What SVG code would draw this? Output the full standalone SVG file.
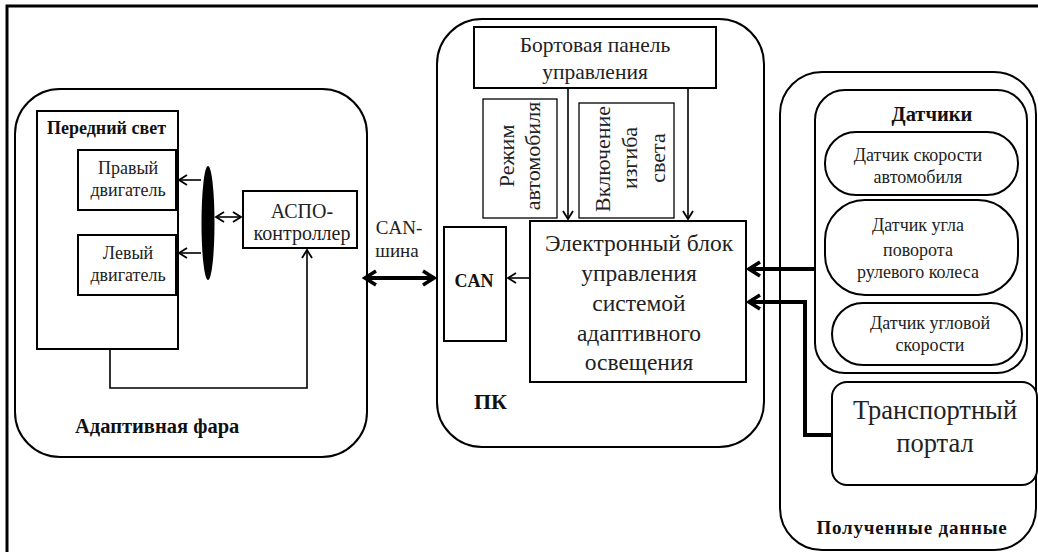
<svg xmlns="http://www.w3.org/2000/svg" width="1038" height="552" viewBox="0 0 1038 552">
<style>
.box{fill:#fff;stroke:#000;stroke-width:2}
.tbox{fill:#fff;stroke:#000;stroke-width:1.3}
.t{font-family:'Liberation Serif','DejaVu Serif','Times New Roman',serif;fill:#222;text-anchor:middle}
.b{font-family:'Liberation Serif','DejaVu Serif','Times New Roman',serif;font-weight:bold;fill:#111}
.thin{fill:none;stroke:#000;stroke-width:1.6}
.thick{fill:none;stroke:#000;stroke-width:4}
</style>
<defs>
<marker id="ah" markerWidth="12" markerHeight="12" refX="10" refY="6" orient="auto-start-reverse" markerUnits="userSpaceOnUse">
<path d="M2,1 L10,6 L2,11" fill="none" stroke="#000" stroke-width="1.8"/>
</marker>
<marker id="ahb" markerWidth="18" markerHeight="18" refX="15" refY="9" orient="auto-start-reverse" markerUnits="userSpaceOnUse">
<path d="M4,2 L15,9 L4,16" fill="none" stroke="#000" stroke-width="3.5"/>
</marker>
</defs>
<rect x="0" y="0" width="1038" height="552" fill="#fff"/>
<rect x="7" y="6" width="1060" height="580" fill="none" stroke="#000" stroke-width="3"/>

<g id="headlight">
<rect class="box" x="15" y="89" width="352" height="368" rx="45" ry="45"/>
<text class="b" x="75" y="433" font-size="20.5">Адаптивная фара</text>
</g>
<g id="front-light">
<rect class="box" x="37" y="111" width="141" height="238"/>
<text class="b" x="47" y="134" font-size="18">Передний свет</text>
</g>
<g id="right-motor">
<rect class="box" x="78" y="150" width="98" height="60"/>
<text class="t" x="128" y="174" font-size="18">Правый</text>
<text class="t" x="128" y="196" font-size="18">двигатель</text>
</g>
<g id="left-motor">
<rect class="box" x="78" y="235" width="98" height="60"/>
<text class="t" x="128" y="259" font-size="18">Левый</text>
<text class="t" x="128" y="281" font-size="18">двигатель</text>
</g>
<g id="bus-node">
<ellipse cx="208" cy="223" rx="6.5" ry="57" fill="#000"/>
</g>
<g id="aspo">
<rect class="box" x="243" y="191" width="114" height="57"/>
<text class="t" x="302" y="218" font-size="20">АСПО-</text>
<text class="t" x="302" y="240" font-size="20">контроллер</text>
</g>

<g id="pc">
<rect class="box" x="437" y="19" width="327" height="428" rx="45" ry="45"/>
<text class="b" x="474" y="409" font-size="22">ПК</text>
</g>
<g id="panel">
<rect class="box" x="474" y="27" width="242" height="61"/>
<text class="t" x="595" y="52" font-size="21.5">Бортовая панель</text>
<text class="t" x="595" y="79" font-size="21.5">управления</text>
</g>
<g id="mode">
<rect class="tbox" x="483" y="99" width="74" height="119"/>
<text class="t" font-size="22" transform="translate(514,156) rotate(-90)">Режим</text>
<text class="t" font-size="22" transform="translate(540,156) rotate(-90)">автомобиля</text>
</g>
<g id="bend">
<rect class="tbox" x="579" y="103" width="95" height="115"/>
<text class="t" font-size="22" transform="translate(610,159) rotate(-90)">Включение</text>
<text class="t" font-size="22" transform="translate(637,158) rotate(-90)">изгиба</text>
<text class="t" font-size="22" transform="translate(665,158) rotate(-90)">света</text>
</g>
<g id="ecu">
<rect class="box" x="530" y="221" width="216" height="161"/>
<text class="t" x="639" y="251" font-size="23.5">Электронный блок</text>
<text class="t" x="639" y="281" font-size="23.5">управления</text>
<text class="t" x="639" y="311" font-size="23.5">системой</text>
<text class="t" x="639" y="341" font-size="23.5">адаптивного</text>
<text class="t" x="639" y="370" font-size="23.5">освещения</text>
</g>
<g id="can">
<rect class="box" x="444" y="227" width="62" height="114"/>
<text class="b" x="474" y="287" font-size="18" text-anchor="middle">CAN</text>
</g>
<g id="can-bus-label">
<text class="t" x="399" y="234" font-size="19">CAN-</text>
<text class="t" x="397" y="257" font-size="19">шина</text>
</g>

<g id="received">
<rect class="box" x="780" y="72" width="256" height="478" rx="42" ry="42"/>
<text class="b" x="912" y="534" font-size="19" text-anchor="middle" letter-spacing="0.8">Полученные данные</text>
</g>
<g id="sensors">
<rect class="box" x="815" y="90" width="212" height="283" rx="30" ry="30"/>
<text class="b" x="932" y="121" font-size="20.5" text-anchor="middle">Датчики</text>
</g>
<g id="speed-sensor">
<rect class="box" x="825" y="132" width="193" height="63" rx="31" ry="31"/>
<text class="t" x="918" y="161" font-size="18">Датчик скорости</text>
<text class="t" x="918" y="183" font-size="18">автомобиля</text>
</g>
<g id="angle-sensor">
<rect class="box" x="825" y="200" width="193" height="95" rx="40" ry="40"/>
<text class="t" x="918" y="231" font-size="18">Датчик угла</text>
<text class="t" x="918" y="256" font-size="18">поворота</text>
<text class="t" x="918" y="278" font-size="18">рулевого колеса</text>
</g>
<g id="rate-sensor">
<rect class="box" x="832" y="303" width="190" height="62" rx="31" ry="31"/>
<text class="t" x="930" y="329" font-size="18">Датчик угловой</text>
<text class="t" x="930" y="351" font-size="18">скорости</text>
</g>
<g id="portal">
<rect class="box" x="832" y="382" width="205" height="103" rx="15" ry="15"/>
<text class="t" x="935" y="419" font-size="26.5">Транспортный</text>
<text class="t" x="935" y="452" font-size="26.5">портал</text>
</g>

<g id="connectors">
<line class="thin" x1="201" y1="180" x2="179" y2="180" marker-end="url(#ah)"/>
<line class="thin" x1="201" y1="253" x2="179" y2="253" marker-end="url(#ah)"/>
<line class="thin" x1="216" y1="217" x2="241" y2="217" marker-start="url(#ah)" marker-end="url(#ah)"/>
<path class="thin" d="M110,349 V388 H307 V250" marker-end="url(#ah)"/>
<line class="thin" x1="568" y1="88" x2="568" y2="219" marker-end="url(#ah)"/>
<line class="thin" x1="688" y1="88" x2="688" y2="219" marker-end="url(#ah)"/>
<line class="thin" x1="530" y1="278" x2="508" y2="278" marker-end="url(#ah)"/>
<line class="thick" x1="365" y1="278" x2="434" y2="278" marker-start="url(#ahb)" marker-end="url(#ahb)"/>
<line class="thick" x1="815" y1="269" x2="749" y2="269" marker-end="url(#ahb)"/>
<path class="thick" d="M832,435 H805 V302 H749" marker-end="url(#ahb)"/>
</g>
</svg>
